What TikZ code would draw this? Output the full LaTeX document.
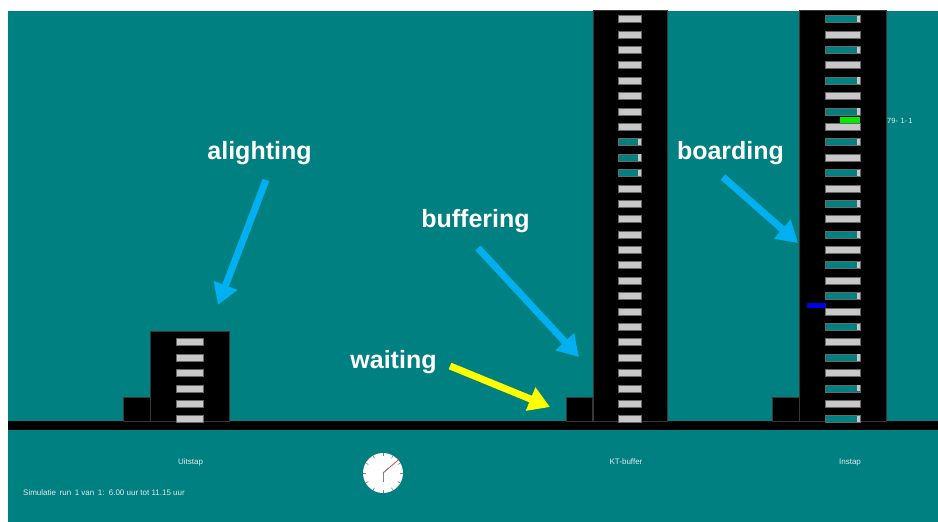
\documentclass[tikz,border=0pt]{standalone}
\usepackage{fontspec}
\setmainfont{Liberation Sans}
\usetikzlibrary{arrows.meta}
\definecolor{tealbg}{RGB}{0,128,128}
\definecolor{barg}{RGB}{200,200,200}
\definecolor{barline}{RGB}{105,105,105}
\definecolor{edgegray}{RGB}{55,55,55}
\definecolor{arrblue}{RGB}{0,176,240}
\definecolor{arryel}{RGB}{255,255,0}
\definecolor{lbl}{RGB}{232,232,232}
\definecolor{brgreen}{RGB}{0,235,0}
\definecolor{brblue}{RGB}{0,0,230}
\definecolor{clockred}{RGB}{210,60,60}
\tikzset{
  colbox/.style={fill=black, draw=edgegray, line width=0.6pt},
  graybar/.style={fill=barg, draw=barline, line width=0.4pt},
  tealbar/.style={fill=tealbg, draw=barline, line width=0.4pt},
  callout/.style={text=white, font=\bfseries\fontsize{25}{30}\selectfont, anchor=base, inner sep=0pt},
  bigarrow/.style={line width=7pt, -{Triangle[length=21pt,width=24pt]}},
  smalllbl/.style={text=lbl, font=\fontsize{8}{9}\selectfont, anchor=base, inner sep=0pt},
}
\newcommand{\mygraybar}[3]{\draw[graybar] (#1,#3-3.5) rectangle (#2,#3+3.5);}
\newcommand{\mytealbar}[3]{\draw[tealbar] (#1,#3-3.5) rectangle (#2,#3+3.5);
  \fill[barg] (#2-3,#3-3.2) rectangle (#2-0.2,#3+3.2);}
\begin{document}
\begin{tikzpicture}[x=1pt,y=-1pt]
\useasboundingbox (0,0) rectangle (938,522);
\fill[white] (0,0) rectangle (938,522);
\fill[tealbg] (8,11) rectangle (938,522);

% ground line
\fill[black] (8,421) rectangle (938,430);

% Uitstap block
\draw[colbox] (150,331) rectangle (229,421.5);
\draw[colbox] (123,397) rectangle (150,421.5);
\foreach \k in {21,...,26}{
  \pgfmathsetmacro\yc{19+15.385*\k}
  \mygraybar{176}{203}{\yc}
}

% KT-buffer column
\draw[colbox] (593,10.7) rectangle (667,421.5);
\draw[colbox] (566,397) rectangle (592,421.5);
\foreach \k in {0,...,26}{
  \pgfmathsetmacro\yc{19+15.385*\k}
  \ifnum\k>7 \ifnum\k<11 \mytealbar{618}{641}{\yc}\else\mygraybar{618}{641}{\yc}\fi
  \else \mygraybar{618}{641}{\yc}\fi
}

% Instap column
\draw[colbox] (799,10.7) rectangle (886,421.5);
\draw[colbox] (772,397) rectangle (799,421.5);
\foreach \k in {0,...,26}{
  \pgfmathsetmacro\yc{19+15.385*\k}
  \pgfmathtruncatemacro\rem{mod(\k,2)}
  \ifnum\rem=0 \mytealbar{825}{860}{\yc}\else\mygraybar{825}{860}{\yc}\fi
}
\fill[brgreen] (840,117) rectangle (860,122.5);
\fill[brblue] (807,303) rectangle (826,308.3);
\node[text=lbl, font=\fontsize{7.5}{9}\selectfont, anchor=west, inner sep=0pt] (cnt) at (887,121) {79-\,\,1-\,1};

% bottom labels
\node[smalllbl] (uit) at (190.5,464) {Uitstap};
\node[smalllbl] (kt) at (626,464) {KT-buffer};
\node[smalllbl] (in) at (850,464) {Instap};
\node[smalllbl, anchor=base west] (sim) at (23,495) {Simulatie\, run\, 1 van\, 1:\, 6.00 uur tot 11.15 uur};

% clock
\node[circle, fill=white, minimum size=40pt, inner sep=0pt] (clock) at (383,473) {};
\foreach \a in {0,30,...,330}{
  \draw[gray, line width=0.6pt] (clock.center) ++(\a:17) -- ++(\a:3);
}
\coordinate (hh) at (383,482);
\coordinate (mh) at (400,458.5);
\coordinate (mg) at (388,468.6);
\draw[gray, line width=0.7pt] (clock.center) -- (hh);
\draw[clockred, line width=0.7pt] (clock.center) -- (mh);
\draw[gray, line width=0.7pt] (clock.center) -- (mg);

% callouts
\node[callout] (alight) at (259.5,159) {alighting};
\node[callout] (buff) at (475.5,227) {buffering};
\node[callout] (wait) at (393.5,368) {waiting};
\node[callout] (board) at (730.5,159) {boarding};

\coordinate (aT) at (266,180); \coordinate (aH) at (218,305);
\coordinate (bT) at (478,248); \coordinate (bH) at (579,357);
\coordinate (wT) at (450,366); \coordinate (wH) at (550,407);
\coordinate (oT) at (723,177); \coordinate (oH) at (798,243);
\draw[bigarrow, arrblue] (aT) -- (aH);
\draw[bigarrow, arrblue] (bT) -- (bH);
\draw[bigarrow, arryel] (wT) -- (wH);
\draw[bigarrow, arrblue] (oT) -- (oH);
\end{tikzpicture}
\end{document}
